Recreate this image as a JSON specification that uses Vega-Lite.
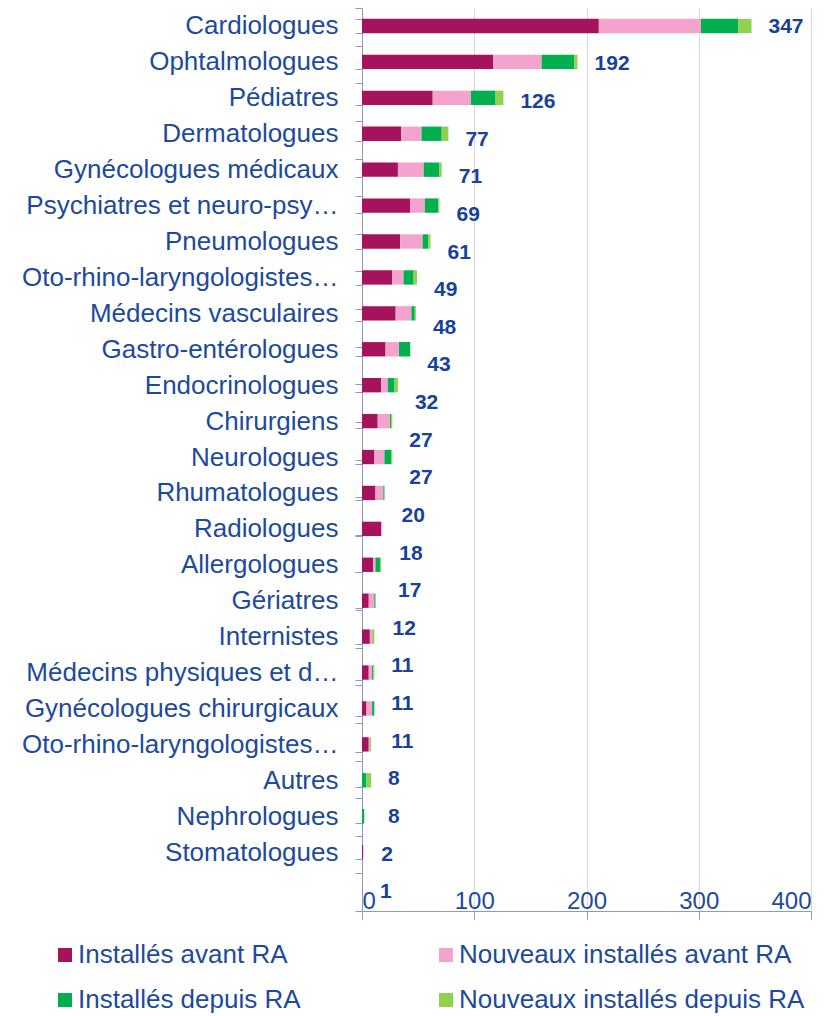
{
  "$schema": "https://vega.github.io/schema/vega-lite/v6.json",
  "width": 449,
  "height": 903,
  "autosize": {"type": "none"},
  "padding": {"left": 362, "top": 8, "right": 24, "bottom": 105},
  "config": {"view": {"stroke": null}},
  "data": {"values": [
    {"specialite": "Cardiologues", "serie": "Installés avant RA", "ordre": 1, "valeur": 211},
    {"specialite": "Cardiologues", "serie": "Nouveaux installés avant RA", "ordre": 2, "valeur": 91},
    {"specialite": "Cardiologues", "serie": "Installés depuis RA", "ordre": 3, "valeur": 33},
    {"specialite": "Cardiologues", "serie": "Nouveaux installés depuis RA", "ordre": 4, "valeur": 12},
    {"specialite": "Ophtalmologues", "serie": "Installés avant RA", "ordre": 1, "valeur": 117},
    {"specialite": "Ophtalmologues", "serie": "Nouveaux installés avant RA", "ordre": 2, "valeur": 43},
    {"specialite": "Ophtalmologues", "serie": "Installés depuis RA", "ordre": 3, "valeur": 29},
    {"specialite": "Ophtalmologues", "serie": "Nouveaux installés depuis RA", "ordre": 4, "valeur": 3},
    {"specialite": "Pédiatres", "serie": "Installés avant RA", "ordre": 1, "valeur": 63},
    {"specialite": "Pédiatres", "serie": "Nouveaux installés avant RA", "ordre": 2, "valeur": 34},
    {"specialite": "Pédiatres", "serie": "Installés depuis RA", "ordre": 3, "valeur": 22},
    {"specialite": "Pédiatres", "serie": "Nouveaux installés depuis RA", "ordre": 4, "valeur": 7},
    {"specialite": "Dermatologues", "serie": "Installés avant RA", "ordre": 1, "valeur": 35},
    {"specialite": "Dermatologues", "serie": "Nouveaux installés avant RA", "ordre": 2, "valeur": 18},
    {"specialite": "Dermatologues", "serie": "Installés depuis RA", "ordre": 3, "valeur": 18},
    {"specialite": "Dermatologues", "serie": "Nouveaux installés depuis RA", "ordre": 4, "valeur": 6},
    {"specialite": "Gynécologues médicaux", "serie": "Installés avant RA", "ordre": 1, "valeur": 32},
    {"specialite": "Gynécologues médicaux", "serie": "Nouveaux installés avant RA", "ordre": 2, "valeur": 23},
    {"specialite": "Gynécologues médicaux", "serie": "Installés depuis RA", "ordre": 3, "valeur": 14},
    {"specialite": "Gynécologues médicaux", "serie": "Nouveaux installés depuis RA", "ordre": 4, "valeur": 2},
    {"specialite": "Psychiatres et neuro-psychiatres", "serie": "Installés avant RA", "ordre": 1, "valeur": 43},
    {"specialite": "Psychiatres et neuro-psychiatres", "serie": "Nouveaux installés avant RA", "ordre": 2, "valeur": 13},
    {"specialite": "Psychiatres et neuro-psychiatres", "serie": "Installés depuis RA", "ordre": 3, "valeur": 12},
    {"specialite": "Psychiatres et neuro-psychiatres", "serie": "Nouveaux installés depuis RA", "ordre": 4, "valeur": 1},
    {"specialite": "Pneumologues", "serie": "Installés avant RA", "ordre": 1, "valeur": 34},
    {"specialite": "Pneumologues", "serie": "Nouveaux installés avant RA", "ordre": 2, "valeur": 20},
    {"specialite": "Pneumologues", "serie": "Installés depuis RA", "ordre": 3, "valeur": 5},
    {"specialite": "Pneumologues", "serie": "Nouveaux installés depuis RA", "ordre": 4, "valeur": 2},
    {"specialite": "Oto-rhino-laryngologistes (ORL)", "serie": "Installés avant RA", "ordre": 1, "valeur": 27},
    {"specialite": "Oto-rhino-laryngologistes (ORL)", "serie": "Nouveaux installés avant RA", "ordre": 2, "valeur": 10},
    {"specialite": "Oto-rhino-laryngologistes (ORL)", "serie": "Installés depuis RA", "ordre": 3, "valeur": 9},
    {"specialite": "Oto-rhino-laryngologistes (ORL)", "serie": "Nouveaux installés depuis RA", "ordre": 4, "valeur": 3},
    {"specialite": "Médecins vasculaires", "serie": "Installés avant RA", "ordre": 1, "valeur": 30},
    {"specialite": "Médecins vasculaires", "serie": "Nouveaux installés avant RA", "ordre": 2, "valeur": 14},
    {"specialite": "Médecins vasculaires", "serie": "Installés depuis RA", "ordre": 3, "valeur": 3},
    {"specialite": "Médecins vasculaires", "serie": "Nouveaux installés depuis RA", "ordre": 4, "valeur": 1},
    {"specialite": "Gastro-entérologues", "serie": "Installés avant RA", "ordre": 1, "valeur": 21},
    {"specialite": "Gastro-entérologues", "serie": "Nouveaux installés avant RA", "ordre": 2, "valeur": 12},
    {"specialite": "Gastro-entérologues", "serie": "Installés depuis RA", "ordre": 3, "valeur": 10},
    {"specialite": "Gastro-entérologues", "serie": "Nouveaux installés depuis RA", "ordre": 4, "valeur": 0},
    {"specialite": "Endocrinologues", "serie": "Installés avant RA", "ordre": 1, "valeur": 17},
    {"specialite": "Endocrinologues", "serie": "Nouveaux installés avant RA", "ordre": 2, "valeur": 6},
    {"specialite": "Endocrinologues", "serie": "Installés depuis RA", "ordre": 3, "valeur": 6},
    {"specialite": "Endocrinologues", "serie": "Nouveaux installés depuis RA", "ordre": 4, "valeur": 3},
    {"specialite": "Chirurgiens", "serie": "Installés avant RA", "ordre": 1, "valeur": 14},
    {"specialite": "Chirurgiens", "serie": "Nouveaux installés avant RA", "ordre": 2, "valeur": 11},
    {"specialite": "Chirurgiens", "serie": "Installés depuis RA", "ordre": 3, "valeur": 1},
    {"specialite": "Chirurgiens", "serie": "Nouveaux installés depuis RA", "ordre": 4, "valeur": 1},
    {"specialite": "Neurologues", "serie": "Installés avant RA", "ordre": 1, "valeur": 11},
    {"specialite": "Neurologues", "serie": "Nouveaux installés avant RA", "ordre": 2, "valeur": 9},
    {"specialite": "Neurologues", "serie": "Installés depuis RA", "ordre": 3, "valeur": 6},
    {"specialite": "Neurologues", "serie": "Nouveaux installés depuis RA", "ordre": 4, "valeur": 1},
    {"specialite": "Rhumatologues", "serie": "Installés avant RA", "ordre": 1, "valeur": 12},
    {"specialite": "Rhumatologues", "serie": "Nouveaux installés avant RA", "ordre": 2, "valeur": 7},
    {"specialite": "Rhumatologues", "serie": "Installés depuis RA", "ordre": 3, "valeur": 1},
    {"specialite": "Rhumatologues", "serie": "Nouveaux installés depuis RA", "ordre": 4, "valeur": 0},
    {"specialite": "Radiologues", "serie": "Installés avant RA", "ordre": 1, "valeur": 17},
    {"specialite": "Radiologues", "serie": "Nouveaux installés avant RA", "ordre": 2, "valeur": 1},
    {"specialite": "Radiologues", "serie": "Installés depuis RA", "ordre": 3, "valeur": 0},
    {"specialite": "Radiologues", "serie": "Nouveaux installés depuis RA", "ordre": 4, "valeur": 0},
    {"specialite": "Allergologues", "serie": "Installés avant RA", "ordre": 1, "valeur": 10},
    {"specialite": "Allergologues", "serie": "Nouveaux installés avant RA", "ordre": 2, "valeur": 2},
    {"specialite": "Allergologues", "serie": "Installés depuis RA", "ordre": 3, "valeur": 4},
    {"specialite": "Allergologues", "serie": "Nouveaux installés depuis RA", "ordre": 4, "valeur": 1},
    {"specialite": "Gériatres", "serie": "Installés avant RA", "ordre": 1, "valeur": 6},
    {"specialite": "Gériatres", "serie": "Nouveaux installés avant RA", "ordre": 2, "valeur": 5},
    {"specialite": "Gériatres", "serie": "Installés depuis RA", "ordre": 3, "valeur": 1},
    {"specialite": "Gériatres", "serie": "Nouveaux installés depuis RA", "ordre": 4, "valeur": 0},
    {"specialite": "Internistes", "serie": "Installés avant RA", "ordre": 1, "valeur": 7},
    {"specialite": "Internistes", "serie": "Nouveaux installés avant RA", "ordre": 2, "valeur": 2},
    {"specialite": "Internistes", "serie": "Installés depuis RA", "ordre": 3, "valeur": 0},
    {"specialite": "Internistes", "serie": "Nouveaux installés depuis RA", "ordre": 4, "valeur": 2},
    {"specialite": "Médecins physiques et de réadaptation", "serie": "Installés avant RA", "ordre": 1, "valeur": 6},
    {"specialite": "Médecins physiques et de réadaptation", "serie": "Nouveaux installés avant RA", "ordre": 2, "valeur": 3},
    {"specialite": "Médecins physiques et de réadaptation", "serie": "Installés depuis RA", "ordre": 3, "valeur": 1},
    {"specialite": "Médecins physiques et de réadaptation", "serie": "Nouveaux installés depuis RA", "ordre": 4, "valeur": 1},
    {"specialite": "Gynécologues chirurgicaux", "serie": "Installés avant RA", "ordre": 1, "valeur": 4},
    {"specialite": "Gynécologues chirurgicaux", "serie": "Nouveaux installés avant RA", "ordre": 2, "valeur": 5},
    {"specialite": "Gynécologues chirurgicaux", "serie": "Installés depuis RA", "ordre": 3, "valeur": 2},
    {"specialite": "Gynécologues chirurgicaux", "serie": "Nouveaux installés depuis RA", "ordre": 4, "valeur": 0},
    {"specialite": "Oto-rhino-laryngologistes et chirurgiens cervico-faciaux", "serie": "Installés avant RA", "ordre": 1, "valeur": 6},
    {"specialite": "Oto-rhino-laryngologistes et chirurgiens cervico-faciaux", "serie": "Nouveaux installés avant RA", "ordre": 2, "valeur": 1},
    {"specialite": "Oto-rhino-laryngologistes et chirurgiens cervico-faciaux", "serie": "Installés depuis RA", "ordre": 3, "valeur": 0},
    {"specialite": "Oto-rhino-laryngologistes et chirurgiens cervico-faciaux", "serie": "Nouveaux installés depuis RA", "ordre": 4, "valeur": 1},
    {"specialite": "Autres", "serie": "Installés avant RA", "ordre": 1, "valeur": 0},
    {"specialite": "Autres", "serie": "Nouveaux installés avant RA", "ordre": 2, "valeur": 0},
    {"specialite": "Autres", "serie": "Installés depuis RA", "ordre": 3, "valeur": 4},
    {"specialite": "Autres", "serie": "Nouveaux installés depuis RA", "ordre": 4, "valeur": 4},
    {"specialite": "Nephrologues", "serie": "Installés avant RA", "ordre": 1, "valeur": 0},
    {"specialite": "Nephrologues", "serie": "Nouveaux installés avant RA", "ordre": 2, "valeur": 0},
    {"specialite": "Nephrologues", "serie": "Installés depuis RA", "ordre": 3, "valeur": 2},
    {"specialite": "Nephrologues", "serie": "Nouveaux installés depuis RA", "ordre": 4, "valeur": 0},
    {"specialite": "Stomatologues", "serie": "Installés avant RA", "ordre": 1, "valeur": 1},
    {"specialite": "Stomatologues", "serie": "Nouveaux installés avant RA", "ordre": 2, "valeur": 0},
    {"specialite": "Stomatologues", "serie": "Installés depuis RA", "ordre": 3, "valeur": 0},
    {"specialite": "Stomatologues", "serie": "Nouveaux installés depuis RA", "ordre": 4, "valeur": 0}
  ]},
  "layer": [
    {
      "mark": {"type": "bar"},
      "encoding": {
        "y": {
          "field": "specialite", "type": "nominal", "sort": null,
          "scale": {"paddingInner": 0.6, "paddingOuter": 0.87, "align": 0.173},
          "axis": {
            "orient": "left", "title": null, "domain": false,
            "ticks": true, "tickSize": 7, "tickColor": "#8e98c6", "tickBand": "extent",
            "labelFontSize": 26, "labelColor": "#1d4a9c", "labelPadding": 17, "labelLimit": 320
          }
        },
        "x": {
          "field": "valeur", "type": "quantitative", "stack": "zero",
          "scale": {"domain": [0, 400], "nice": false},
          "axis": {
            "orient": "bottom", "title": null, "values": [0, 100, 200, 300, 400],
            "grid": true, "gridColor": "#d9d9d9",
            "domain": true, "domainColor": "#8e98c6",
            "ticks": true, "tickSize": 8, "tickColor": "#8e98c6",
            "labelFontSize": 24, "labelColor": "#1d4a9c",
            "labelBaseline": "alphabetic", "labelPadding": -11
          }
        },
        "color": {
          "field": "serie", "type": "nominal",
          "scale": {
            "domain": ["Installés avant RA", "Installés depuis RA", "Nouveaux installés avant RA", "Nouveaux installés depuis RA"],
            "range": ["#a6135d", "#00b050", "#f4a3cc", "#92d050"]
          },
          "legend": {
            "orient": "none", "legendX": -310, "legendY": 934, "title": null,
            "columns": 2,
            "symbolType": "square", "symbolSize": 196,
            "labelFontSize": 26, "labelColor": "#1d4a9c", "labelLimit": 400,
            "labelOffset": 0, "columnPadding": 132, "rowPadding": 19
          }
        },
        "order": {"field": "ordre", "type": "quantitative"}
      }
    },
    {
      "mark": {"type": "text", "align": "left", "baseline": "middle", "dx": 17, "fontSize": 21, "fontWeight": "bold", "color": "#17419a"},
      "encoding": {
        "y": {
          "field": "specialite", "type": "nominal", "sort": null,
          "scale": {"paddingInner": 0, "paddingOuter": 0},
          "axis": {
            "orient": "left", "title": null, "labels": false,
            "domain": true, "domainColor": "#8e98c6",
            "ticks": true, "tickSize": 7, "tickColor": "#8e98c6", "tickBand": "extent"
          }
        },
        "x": {"field": "valeur", "type": "quantitative", "aggregate": "sum"},
        "text": {"field": "valeur", "type": "quantitative", "aggregate": "sum"}
      }
    }
  ],
  "resolve": {"scale": {"y": "independent"}}
}
